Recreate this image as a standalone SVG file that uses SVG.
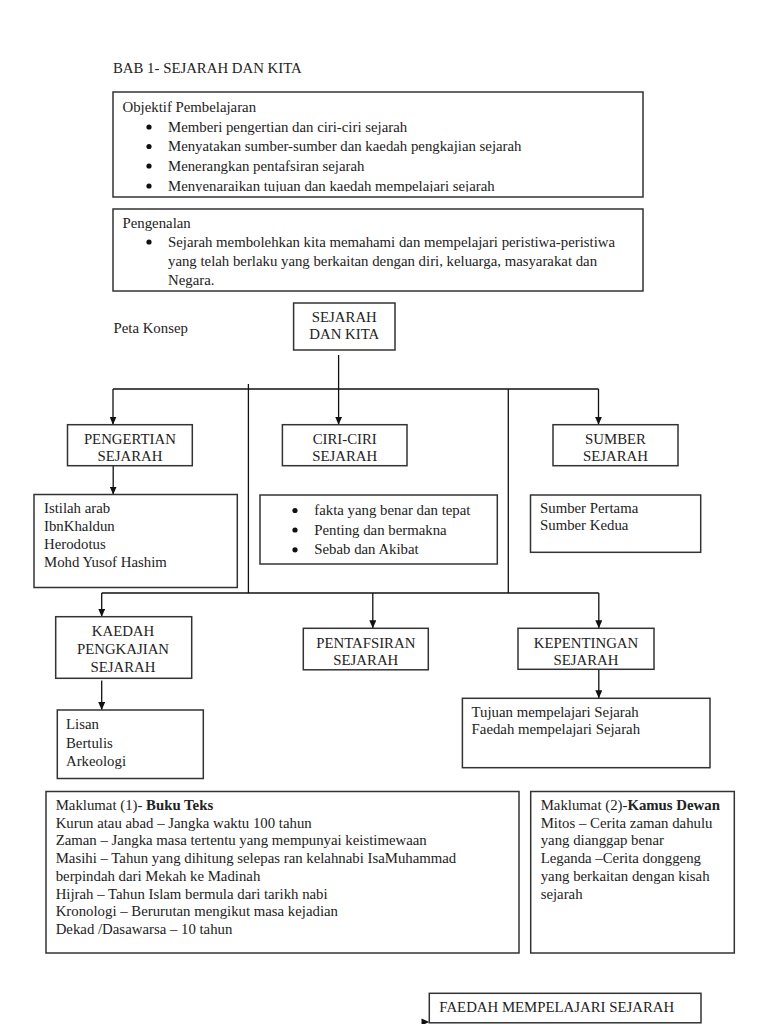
<svg xmlns="http://www.w3.org/2000/svg" width="768" height="1024" viewBox="0 0 768 1024">
<style>
text{font-family:"Liberation Serif","Times New Roman",serif;font-size:14.8px;fill:#222}
.c{text-anchor:middle}
.box{fill:#fff;stroke:#333;stroke-width:1.5}
.ln{fill:none;stroke:#111;stroke-width:1.3}
.b{fill:#111}
</style>
<defs>
<marker id="ah" viewBox="0 0 10 10" refX="10" refY="5" markerWidth="8" markerHeight="7" markerUnits="userSpaceOnUse" orient="auto" preserveAspectRatio="none">
<path d="M0,0 L10,5 L0,10 z" fill="#111"/>
</marker>
<clipPath id="objclip"><rect x="113" y="92" width="530" height="99.8"/></clipPath>
</defs>
<rect width="768" height="1024" fill="#fff"/>

<text x="113" y="73.3">BAB 1- SEJARAH DAN KITA</text>

<g id="objektif">
<rect class="box" x="113" y="92" width="530" height="105"/>
<g clip-path="url(#objclip)">
<text x="122.5" y="112.3">Objektif Pembelajaran</text>
<circle class="b" cx="149" cy="127" r="2.6"/>
<text x="168" y="131.5">Memberi pengertian dan ciri-ciri sejarah</text>
<circle class="b" cx="149" cy="146.5" r="2.6"/>
<text x="168" y="151">Menyatakan sumber-sumber dan kaedah pengkajian sejarah</text>
<circle class="b" cx="149" cy="166" r="2.6"/>
<text x="168" y="170.5">Menerangkan pentafsiran sejarah</text>
<circle class="b" cx="149" cy="186" r="2.6"/>
<text x="168" y="190.5">Menyenaraikan tujuan dan kaedah mempelajari sejarah</text>
</g>
</g>

<g id="pengenalan">
<rect class="box" x="113" y="209" width="530" height="82"/>
<text x="122.5" y="227.5">Pengenalan</text>
<circle class="b" cx="149" cy="242" r="2.6"/>
<text x="168" y="246.5">Sejarah membolehkan kita memahami dan mempelajari peristiwa-peristiwa</text>
<text x="168" y="265.5">yang telah berlaku yang berkaitan dengan diri, keluarga, masyarakat dan</text>
<text x="168" y="284.5">Negara.</text>
</g>

<text x="113.5" y="333">Peta Konsep</text>

<g id="connectors">
<line class="ln" x1="338.6" y1="355" x2="338.6" y2="424.7" marker-end="url(#ah)"/>
<line class="ln" x1="113" y1="389" x2="598.5" y2="389"/>
<line class="ln" x1="113" y1="389" x2="113" y2="424.7" marker-end="url(#ah)"/>
<line class="ln" x1="598.5" y1="389" x2="598.5" y2="424.7" marker-end="url(#ah)"/>
<line class="ln" x1="248.4" y1="384" x2="248.4" y2="593"/>
<line class="ln" x1="508.3" y1="389" x2="508.3" y2="593"/>
<line class="ln" x1="113.2" y1="465.7" x2="113.2" y2="494.5" marker-end="url(#ah)"/>
<line class="ln" x1="101.7" y1="593" x2="598.8" y2="593"/>
<line class="ln" x1="101.7" y1="593" x2="101.7" y2="616.7" marker-end="url(#ah)"/>
<line class="ln" x1="372.8" y1="593" x2="372.8" y2="628.3" marker-end="url(#ah)"/>
<line class="ln" x1="598.8" y1="593" x2="598.8" y2="628.3" marker-end="url(#ah)"/>
<line class="ln" x1="101.7" y1="680.5" x2="101.7" y2="710" marker-end="url(#ah)"/>
<line class="ln" x1="598.8" y1="661.7" x2="598.8" y2="698.3" marker-end="url(#ah)"/>
<path d="M421.5,1018.5 L429.3,1022 L421.5,1025.5 z" fill="#111"/>
</g>

<g id="sejarah-dan-kita">
<rect class="box" x="293.6" y="303" width="101.4" height="47"/>
<text class="c" x="344.3" y="321.5">SEJARAH</text>
<text class="c" x="344.3" y="339">DAN KITA</text>
</g>

<g id="pengertian">
<rect class="box" x="67.5" y="424.7" width="124.8" height="41"/>
<text class="c" x="129.9" y="444.3">PENGERTIAN</text>
<text class="c" x="129.9" y="461.2">SEJARAH</text>
</g>

<g id="ciri-ciri">
<rect class="box" x="282.4" y="424.7" width="124.6" height="41"/>
<text class="c" x="344.7" y="444.3">CIRI-CIRI</text>
<text class="c" x="344.7" y="461.2">SEJARAH</text>
</g>

<g id="sumber">
<rect class="box" x="553" y="424.7" width="125" height="41"/>
<text class="c" x="615.5" y="444.3">SUMBER</text>
<text class="c" x="615.5" y="461.2">SEJARAH</text>
</g>

<g id="pengertian-list">
<rect class="box" x="34" y="494.5" width="203.3" height="93"/>
<text x="44" y="512.7">Istilah arab</text>
<text x="44" y="530.7">IbnKhaldun</text>
<text x="44" y="549">Herodotus</text>
<text x="44" y="566.7">Mohd Yusof Hashim</text>
</g>

<g id="ciri-list">
<rect class="box" x="260" y="495" width="237.3" height="69"/>
<circle class="b" cx="295" cy="510.5" r="2.6"/>
<text x="314.3" y="515">fakta yang benar dan tepat</text>
<circle class="b" cx="295" cy="530" r="2.6"/>
<text x="314.3" y="534.5">Penting dan bermakna</text>
<circle class="b" cx="295" cy="549.8" r="2.6"/>
<text x="314.3" y="554.3">Sebab dan Akibat</text>
</g>

<g id="sumber-list">
<rect class="box" x="530.5" y="495" width="170.2" height="57.3"/>
<text x="540" y="512.7">Sumber Pertama</text>
<text x="540" y="529.5">Sumber Kedua</text>
</g>

<g id="kaedah">
<rect class="box" x="55.7" y="616.7" width="136" height="61.6"/>
<text class="c" x="123" y="636">KAEDAH</text>
<text class="c" x="123" y="654.3">PENGKAJIAN</text>
<text class="c" x="123" y="671.7">SEJARAH</text>
</g>

<g id="pentafsiran">
<rect class="box" x="303.3" y="628.3" width="125" height="41.5"/>
<text class="c" x="365.8" y="648.3">PENTAFSIRAN</text>
<text class="c" x="365.8" y="665">SEJARAH</text>
</g>

<g id="kepentingan">
<rect class="box" x="518" y="628.3" width="136" height="41"/>
<text class="c" x="586" y="648.3">KEPENTINGAN</text>
<text class="c" x="586" y="665">SEJARAH</text>
</g>

<g id="kaedah-list">
<rect class="box" x="57.3" y="710" width="146" height="68.5"/>
<text x="66" y="729">Lisan</text>
<text x="66" y="747.5">Bertulis</text>
<text x="66" y="765.7">Arkeologi</text>
</g>

<g id="kepentingan-list">
<rect class="box" x="462.4" y="698.3" width="247.6" height="69.4"/>
<text x="471.6" y="717">Tujuan mempelajari Sejarah</text>
<text x="471.6" y="734">Faedah mempelajari Sejarah</text>
</g>

<g id="maklumat-1">
<rect class="box" x="46" y="791.5" width="473" height="161.5"/>
<text x="55.7" y="810">Maklumat (1)- <tspan font-weight="bold">Buku Teks</tspan></text>
<text x="55.7" y="827.7">Kurun atau abad – Jangka waktu 100 tahun</text>
<text x="55.7" y="845.4">Zaman – Jangka masa tertentu yang mempunyai keistimewaan</text>
<text x="55.7" y="863.1">Masihi – Tahun yang dihitung selepas ran kelahnabi IsaMuhammad</text>
<text x="55.7" y="880.8">berpindah dari Mekah ke Madinah</text>
<text x="55.7" y="898.5">Hijrah – Tahun Islam bermula dari tarikh nabi</text>
<text x="55.7" y="916.2">Kronologi – Berurutan mengikut masa kejadian</text>
<text x="55.7" y="933.9">Dekad /Dasawarsa – 10 tahun</text>
</g>

<g id="maklumat-2">
<rect class="box" x="530.7" y="791.5" width="203.6" height="161.5"/>
<text x="540.7" y="810">Maklumat (2)-<tspan font-weight="bold">Kamus Dewan</tspan></text>
<text x="540.7" y="827.7">Mitos – Cerita zaman dahulu</text>
<text x="540.7" y="845.4">yang dianggap benar</text>
<text x="540.7" y="863.1">Leganda –Cerita donggeng</text>
<text x="540.7" y="880.8">yang berkaitan dengan kisah</text>
<text x="540.7" y="898.5">sejarah</text>
</g>

<g id="faedah">
<rect class="box" x="429.3" y="993.3" width="271.7" height="29.5"/>
<text x="439.3" y="1011.7">FAEDAH MEMPELAJARI SEJARAH</text>
</g>
</svg>
